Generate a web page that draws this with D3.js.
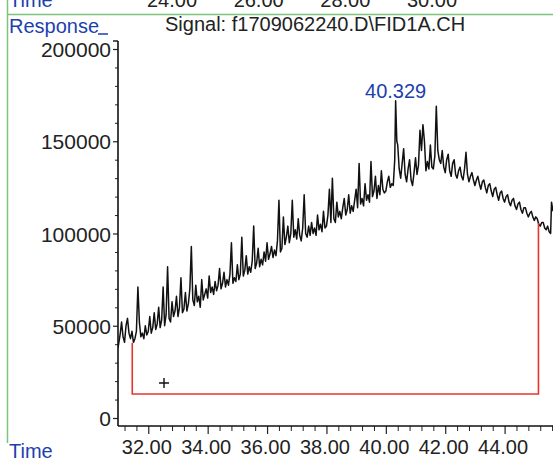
<!DOCTYPE html>
<html><head><meta charset="utf-8">
<script src="https://cdn.jsdelivr.net/npm/d3@7"></script>
<style>body{margin:0;background:#fff}svg{display:block}text{font-family:"Liberation Sans",Arial,sans-serif}</style>
</head><body><svg id="c" width="553" height="460"></svg>
<script>
const signalTime=[
30.98,31.05,31.1,31.15,31.2,31.25,31.3,31.35,31.4,31.45,
31.5,31.55,31.6,31.65,31.7,31.75,31.8,31.85,31.9,31.95,
32,32.05,32.1,32.15,32.2,32.25,32.3,32.35,32.4,32.45,
32.5,32.55,32.6,32.65,32.7,32.75,32.8,32.85,32.9,32.95,
33,33.05,33.1,33.15,33.2,33.25,33.3,33.35,33.4,33.45,
33.5,33.55,33.6,33.65,33.7,33.75,33.8,33.85,33.9,33.95,
34,34.05,34.1,34.15,34.2,34.25,34.3,34.35,34.4,34.45,
34.5,34.55,34.6,34.65,34.7,34.75,34.8,34.85,34.9,34.95,
35,35.05,35.1,35.15,35.2,35.25,35.3,35.35,35.4,35.45,
35.5,35.55,35.6,35.65,35.7,35.75,35.8,35.85,35.9,35.95,
36,36.05,36.1,36.15,36.2,36.25,36.3,36.35,36.4,36.45,
36.5,36.55,36.6,36.65,36.7,36.75,36.8,36.85,36.9,36.95,
37,37.05,37.1,37.15,37.2,37.25,37.3,37.35,37.4,37.45,
37.5,37.55,37.6,37.65,37.7,37.75,37.8,37.85,37.9,37.95,
38,38.05,38.1,38.15,38.2,38.25,38.3,38.35,38.4,38.45,
38.5,38.55,38.6,38.65,38.7,38.75,38.8,38.85,38.9,38.95,
39,39.05,39.1,39.15,39.2,39.25,39.3,39.35,39.4,39.45,
39.5,39.55,39.6,39.65,39.7,39.75,39.8,39.85,39.9,39.95,
40,40.05,40.1,40.15,40.2,40.25,40.3,40.33,40.37,40.4,40.45,
40.5,40.55,40.6,40.65,40.7,40.75,40.8,40.85,40.9,40.95,
41,41.05,41.1,41.15,41.2,41.25,41.3,41.35,41.4,41.45,
41.5,41.55,41.6,41.65,41.7,41.75,41.8,41.85,41.9,41.95,
42,42.05,42.1,42.15,42.2,42.25,42.3,42.35,42.4,42.45,
42.5,42.55,42.6,42.65,42.7,42.75,42.8,42.85,42.9,42.95,
43,43.05,43.1,43.15,43.2,43.25,43.3,43.35,43.4,43.45,
43.5,43.55,43.6,43.65,43.7,43.75,43.8,43.85,43.9,43.95,
44,44.05,44.1,44.15,44.2,44.25,44.3,44.35,44.4,44.45,
44.5,44.55,44.6,44.65,44.7,44.75,44.8,44.85,44.9,44.95,
45,45.05,45.1,45.15,45.2,45.25,45.3,45.35,45.4,45.45,
45.5,45.55,45.58,45.63];
const signalValue=[
38000,45000,52000,44000,41000,50000,54000,46000,43000,47000,
41000,43000,47000,71000,52000,44000,46000,43000,50000,45000,
47000,55000,46000,49000,57000,48000,51000,60000,49000,53000,
71000,50000,56000,82000,54000,52000,63000,55000,58000,66000,
55000,60000,76000,57000,59000,68000,58000,62000,70000,93000,
64000,61000,72000,63000,66000,60000,75000,64000,67000,70000,
65000,77000,68000,71000,67000,74000,69000,72000,81000,70000,
73000,79000,71000,75000,72000,78000,95000,73000,76000,74000,
83000,75000,78000,98000,77000,80000,88000,78000,82000,79000,
85000,104000,81000,84000,92000,82000,86000,83000,90000,85000,
95000,86000,89000,93000,87000,91000,88000,96000,118000,90000,
92000,109000,94000,98000,104000,95000,100000,118000,98000,102000,
97000,108000,99000,96000,103000,121000,100000,98000,104000,99000,
106000,100000,103000,99000,110000,102000,105000,101000,112000,103000,
104000,110000,124000,106000,130000,108000,106000,117000,109000,112000,
108000,114000,119000,110000,113000,121000,111000,115000,112000,118000,
124000,114000,138000,116000,119000,115000,127000,118000,121000,117000,
139000,120000,123000,131000,119000,126000,121000,134000,124000,122000,
123000,128000,131000,125000,127000,126000,140000,172000,150000,148000,135000,
130000,138000,146000,132000,128000,135000,140000,129000,126000,133000,
141000,132000,137000,156000,145000,159000,150000,134000,139000,135000,
148000,136000,135000,142000,169000,145000,140000,138000,145000,136000,
133000,140000,143000,134000,131000,138000,140000,132000,130000,134000,
136000,131000,129000,135000,144000,132000,128000,131000,133000,129000,
126000,129000,131000,127000,124000,128000,129000,125000,122000,126000,
127000,123000,120000,124000,125000,121000,118000,122000,123000,119000,
117000,120000,121000,117000,115000,118000,119000,115000,113000,116000,
117000,113000,111000,114000,114000,111000,109000,111000,112000,109000,
107000,109000,108000,105000,104000,106000,106000,103000,102000,104000,
101000,100000,117000,112000];
const xMajorTicks=[32,34,36,38,40,42,44];
const xMinorTicks=[31.2,31.6,32.4,32.8,33.2,33.6,34.4,34.8,35.2,35.6,36.4,36.8,37.2,37.6,38.4,38.8,39.2,39.6,40.4,40.8,41.2,41.6,42.4,42.8,43.2,43.6,44.4,44.8,45.2,45.6];
const yMajorTicks=[0,50000,100000,150000,200000];
const yMinorTicks=[10000,20000,30000,40000,60000,70000,80000,90000,110000,120000,130000,140000,160000,170000,180000,190000];
const topTimes=[24,26,28,30];
const baselineTime=[31.46,31.46,45.14,45.14];
const baselineValue=[40600,13000,13000,105700];
const peakTime=40.33, peakValue=172000, peakLabel="40.329";
const markerTime=32.53, markerValue=19000;
const titleText="Signal: f1709062240.D\\FID1A.CH";

const svg=d3.select("#c");
const blue="#1d3fae";
const x=d3.scaleLinear().domain([30.98,45.63]).range([118,553]);
const y=d3.scaleLinear().domain([0,200000]).range([418,49]);
const xTop=d3.scaleLinear().domain([24,30]).range([172,432]);

// green frame
svg.append("line").attr("x1",7.5).attr("x2",7.5).attr("y1",0).attr("y2",443).attr("stroke","#7cc47c").attr("stroke-width",1.5);
svg.append("line").attr("x1",7.5).attr("x2",553).attr("y1",14.5).attr("y2",14.5).attr("stroke","#7cc47c").attr("stroke-width",1.5);

// top time labels (cut at the top edge as in the reference)
svg.append("text").attr("x",9).attr("y",7).attr("fill",blue).attr("font-size",20).text("Time");
svg.selectAll("text.top").data(topTimes).join("text").attr("class","top")
  .attr("x",d=>xTop(d)).attr("y",7).attr("text-anchor","middle").attr("font-size",20).attr("fill","#222")
  .text(d=>d3.format(".2f")(d));

// titles
svg.append("text").attr("x",9).attr("y",33).attr("fill",blue).attr("font-size",20).text("Response");
svg.append("line").attr("x1",98).attr("x2",108).attr("y1",34).attr("y2",34).attr("stroke",blue).attr("stroke-width",1.5);
svg.append("text").attr("x",165).attr("y",31).attr("fill","#222").attr("font-size",20).text(titleText);
svg.append("text").attr("x",9).attr("y",458).attr("fill",blue).attr("font-size",20).text("Time");

// y axis
const gy=svg.append("g").attr("transform","translate(118,0)");
gy.call(d3.axisLeft(y).tickValues(yMajorTicks).tickSize(5).tickPadding(2).tickFormat(d3.format("d")));
gy.select(".domain").remove();
gy.selectAll("text").attr("font-size",21).attr("fill","#222").attr("font-family","Liberation Sans, Arial, sans-serif").attr("dy","0.36em");
gy.selectAll("line").attr("stroke","#222").attr("stroke-width",1.2);
const gym=svg.append("g").attr("transform","translate(118,0)");
gym.call(d3.axisLeft(y).tickValues(yMinorTicks).tickSize(3).tickFormat(""));
gym.select(".domain").remove();
gym.selectAll("line").attr("stroke","#222").attr("stroke-width",1);
svg.append("line").attr("x1",118).attr("x2",118).attr("y1",y(200000)-8).attr("y2",y(0)+8).attr("stroke","#111").attr("stroke-width",1.6);
svg.append("line").attr("x1",113).attr("x2",118).attr("y1",y(200000)-8).attr("y2",y(200000)-8).attr("stroke","#111").attr("stroke-width",1.4);

// x axis
const xAxisY=y(0)+8;
const gx=svg.append("g").attr("transform",`translate(0,${xAxisY})`);
gx.call(d3.axisBottom(x).tickValues(xMajorTicks).tickSize(8).tickPadding(6).tickFormat(d3.format(".2f")));
gx.select(".domain").remove();
gx.selectAll("text").attr("font-size",20).attr("fill","#222").attr("font-family","Liberation Sans, Arial, sans-serif").attr("dx","-2");
gx.selectAll("line").attr("stroke","#222").attr("stroke-width",1.2);
const gxm=svg.append("g").attr("transform",`translate(0,${xAxisY})`);
gxm.call(d3.axisBottom(x).tickValues(xMinorTicks).tickSize(5).tickFormat(""));
gxm.select(".domain").remove();
gxm.selectAll("line").attr("stroke","#222").attr("stroke-width",1);
svg.append("line").attr("x1",118).attr("x2",553).attr("y1",xAxisY).attr("y2",xAxisY).attr("stroke","#111").attr("stroke-width",1.6);

// clip
svg.append("clipPath").attr("id","plot").append("rect").attr("x",118).attr("y",40).attr("width",435).attr("height",386);

// signal
const sig=d3.range(signalTime.length).map(i=>[signalTime[i],signalValue[i]]);
svg.append("path").attr("clip-path","url(#plot)").datum(sig)
  .attr("d",d3.line().x(d=>x(d[0])).y(d=>y(d[1])))
  .attr("fill","none").attr("stroke","#111").attr("stroke-width",1.5).attr("stroke-linejoin","round");

// baseline
const bl=d3.range(baselineTime.length).map(i=>[baselineTime[i],baselineValue[i]]);
svg.append("path").datum(bl).attr("d",d3.line().x(d=>x(d[0])).y(d=>y(d[1])))
  .attr("fill","none").attr("stroke","#e8352e").attr("stroke-width",1.6);

// marker
const mx=x(markerTime), my=y(markerValue);
svg.append("path").attr("d",`M${mx-5},${my}H${mx+5}M${mx},${my-5}V${my+5}`).attr("stroke","#111").attr("stroke-width",1.4);

// peak label
svg.append("text").attr("x",x(peakTime)).attr("y",y(peakValue)-3).attr("text-anchor","middle")
  .attr("fill",blue).attr("font-size",20).text(peakLabel);
</script></body></html>
